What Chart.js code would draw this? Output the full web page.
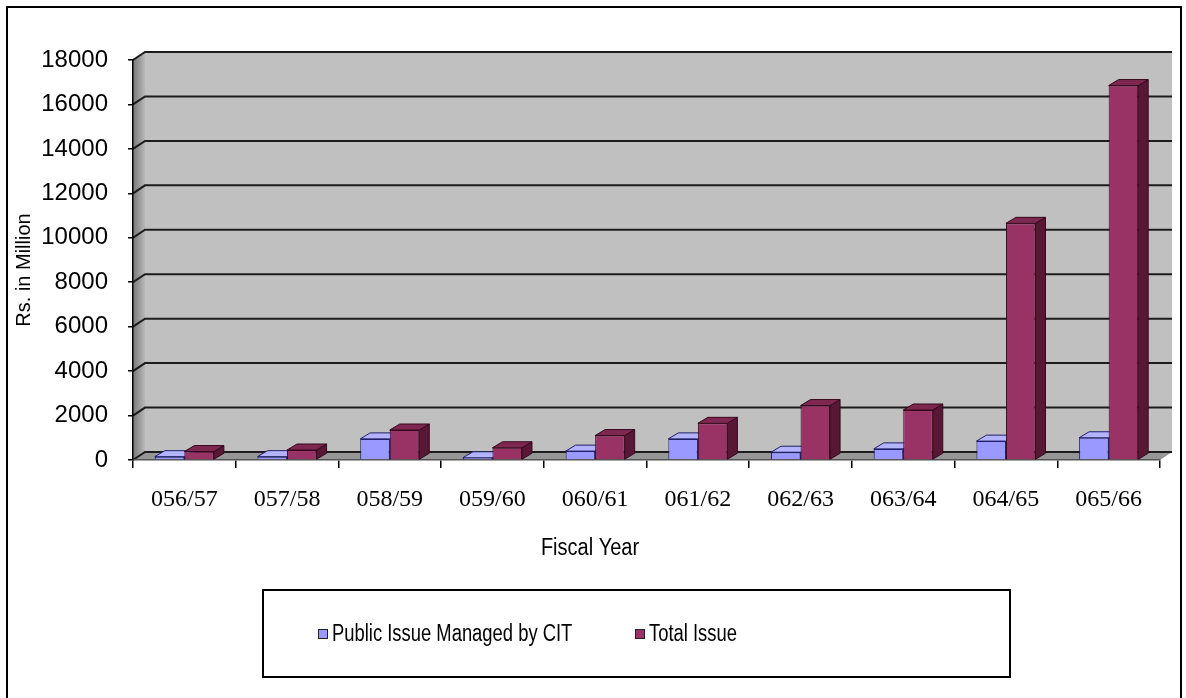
<!DOCTYPE html>
<html>
<head>
<meta charset="utf-8">
<script src="https://cdn.jsdelivr.net/npm/chart.js@4/dist/chart.umd.min.js"></script>
<style>
  html, body { margin: 0; padding: 0; background: #fff; }
  canvas { display: block; }
</style>
</head>
<body>
<canvas id="chart" width="1186" height="698"></canvas>
<script>
// Public issues per fiscal year (Rs. in Million)
const fiscalYears = ['056/57', '057/58', '058/59', '059/60', '060/61', '061/62', '062/63', '063/64', '064/65', '065/66'];
const citManaged  = [150, 150, 950, 100, 400, 950, 350, 500, 850, 1000];
const totalIssue  = [380, 450, 1350, 550, 1100, 1650, 2450, 2250, 10650, 16850];
const valueTicks  = [0, 2000, 4000, 6000, 8000, 10000, 12000, 14000, 16000, 18000];
const seriesNames = ['Public Issue Managed by CIT', 'Total Issue'];
const xAxisTitle  = 'Fiscal Year';
const yAxisTitle  = 'Rs. in Million';

// depth of the walls / floor and of each column
const WALL = { dx: 12, dy: -8 };
const COL  = { dx: 10, dy: -6 };
const palette = [
  { front: '#9999ff', top: '#b3b3ff', side: '#6a6ac0', edge: '#1f1f66' },
  { front: '#993366', top: '#7e2851', side: '#581735', edge: '#35081c' }
];

function path(ctx, pts) {
  ctx.beginPath();
  ctx.moveTo(pts[0][0], pts[0][1]);
  for (let i = 1; i < pts.length; i++) ctx.lineTo(pts[i][0], pts[i][1]);
  ctx.closePath();
}

// back wall, side wall, floor and gridlines behind the columns
const walls = {
  id: 'walls',
  beforeDraw(chart) {
    const { ctx, chartArea: a, scales: { y } } = chart;
    const { dx, dy } = WALL;
    ctx.save();
    ctx.fillStyle = '#c0c0c0';
    ctx.fillRect(a.left + dx, a.top + dy, a.right - a.left, a.bottom - a.top);

    const g = ctx.createLinearGradient(a.left, 0, a.left + dx, 0);
    g.addColorStop(0, '#787878');
    g.addColorStop(1, '#b9b9b9');
    ctx.fillStyle = g;
    path(ctx, [[a.left, a.top], [a.left + dx, a.top + dy], [a.left + dx, a.bottom + dy], [a.left, a.bottom]]);
    ctx.fill();

    ctx.fillStyle = '#969696';
    path(ctx, [[a.left, a.bottom], [a.right, a.bottom], [a.right + dx, a.bottom + dy], [a.left + dx, a.bottom + dy]]);
    ctx.fill();

    ctx.strokeStyle = '#1c1c1c';
    ctx.lineWidth = 2;
    y.ticks.forEach(t => {
      const py = y.getPixelForValue(t.value);
      ctx.beginPath();
      ctx.moveTo(a.left, py);
      ctx.lineTo(a.left + dx, py + dy);
      ctx.lineTo(a.right + dx, py + dy);
      ctx.stroke();
    });
    ctx.restore();
  }
};

// top and side faces of each column; the library draws the front face over them
const columns3d = {
  id: 'columns3d',
  beforeDatasetsDraw(chart) {
    const { ctx } = chart;
    const { dx, dy } = COL;
    ctx.save();
    ctx.lineWidth = 1;
    chart.data.datasets.forEach((ds, i) => {
      const c = palette[i];
      chart.getDatasetMeta(i).data.forEach(bar => {
        const { x, y, base, width } = bar;
        const l = x - width / 2, r = x + width / 2;
        ctx.strokeStyle = c.edge;
        ctx.fillStyle = c.side;
        path(ctx, [[r, y], [r + dx, y + dy], [r + dx, base + dy], [r, base]]);
        ctx.fill(); ctx.stroke();
        ctx.fillStyle = c.top;
        path(ctx, [[l, y], [r, y], [r + dx, y + dy], [l + dx, y + dy]]);
        ctx.fill(); ctx.stroke();
      });
    });
    ctx.restore();
  }
};

// axis titles, boxed legend and outer frame
const annotations = {
  id: 'annotations',
  afterDraw(chart) {
    const { ctx } = chart;
    ctx.save();
    ctx.fillStyle = '#000';
    ctx.textBaseline = 'middle';

    ctx.font = '20px "Liberation Sans", Arial, sans-serif';
    ctx.textAlign = 'center';
    ctx.save();
    ctx.translate(24, 270);
    ctx.rotate(-Math.PI / 2);
    ctx.fillText(yAxisTitle, 0, 0);
    ctx.restore();

    ctx.save();
    ctx.translate(590, 549);
    ctx.scale(0.87, 1);
    ctx.font = '23px "Liberation Sans", Arial, sans-serif';
    ctx.fillText(xAxisTitle, 0, 0);
    ctx.restore();

    // legend box
    ctx.strokeStyle = '#000';
    ctx.lineWidth = 2;
    ctx.strokeRect(263, 590, 747, 87);
    const items = [{ x: 318 }, { x: 635 }];
    ctx.textAlign = 'left';
    chart.data.datasets.forEach((ds, i) => {
      const sx = items[i].x, cy = 634;
      ctx.fillStyle = palette[i].front;
      ctx.fillRect(sx, cy - 5, 10, 10);
      ctx.lineWidth = 1;
      ctx.strokeStyle = '#222';
      ctx.strokeRect(sx + 0.5, cy - 4.5, 9, 9);
      ctx.fillStyle = '#000';
      ctx.save();
      ctx.translate(sx + 14, cy + 1);
      ctx.scale(0.8, 1);
      ctx.font = '23px "Liberation Sans", Arial, sans-serif';
      ctx.fillText(ds.label, 0, 0);
      ctx.restore();
    });

    // outer frame (open at the bottom)
    ctx.strokeStyle = '#000';
    ctx.lineWidth = 2;
    ctx.beginPath();
    ctx.moveTo(7, 700);
    ctx.lineTo(7, 7);
    ctx.lineTo(1181, 7);
    ctx.lineTo(1181, 700);
    ctx.stroke();
    ctx.restore();
  }
};

new Chart(document.getElementById('chart'), {
  type: 'bar',
  data: {
    labels: fiscalYears,
    datasets: [
      { label: seriesNames[0], data: citManaged, backgroundColor: palette[0].front, borderColor: palette[0].edge, borderWidth: 1 },
      { label: seriesNames[1], data: totalIssue, backgroundColor: palette[1].front, borderColor: palette[1].edge, borderWidth: 1 }
    ]
  },
  options: {
    responsive: false,
    animation: false,
    devicePixelRatio: 1,
    layout: { padding: { top: 60, right: 26, left: 0, bottom: 0 } },
    datasets: { bar: { categoryPercentage: 0.575, barPercentage: 1 } },
    plugins: { legend: { display: false }, tooltip: { enabled: false } },
    scales: {
      x: {
        grid: { display: true, drawOnChartArea: false, drawTicks: true, tickLength: 8, color: '#000', lineWidth: 1.5, offset: true },
        border: { display: true, color: '#555', width: 1.5 },
        ticks: { color: '#000', font: { family: 'Liberation Serif', size: 24 }, padding: 17, maxRotation: 0, autoSkip: false },
        afterFit: s => { s.height = 238; }
      },
      y: {
        min: 0,
        max: 18000,
        afterBuildTicks: s => { s.ticks = valueTicks.map(v => ({ value: v })); },
        grid: { drawOnChartArea: false, drawTicks: true, tickLength: 5, color: '#000', lineWidth: 1.5 },
        border: { display: true, color: '#000', width: 1.5 },
        ticks: { color: '#000', font: { family: 'Liberation Sans', size: 24 }, padding: 20, callback: v => String(v) },
        afterFit: s => { s.width = 133; }
      }
    }
  },
  plugins: [walls, columns3d, annotations]
});
</script>
</body>
</html>
